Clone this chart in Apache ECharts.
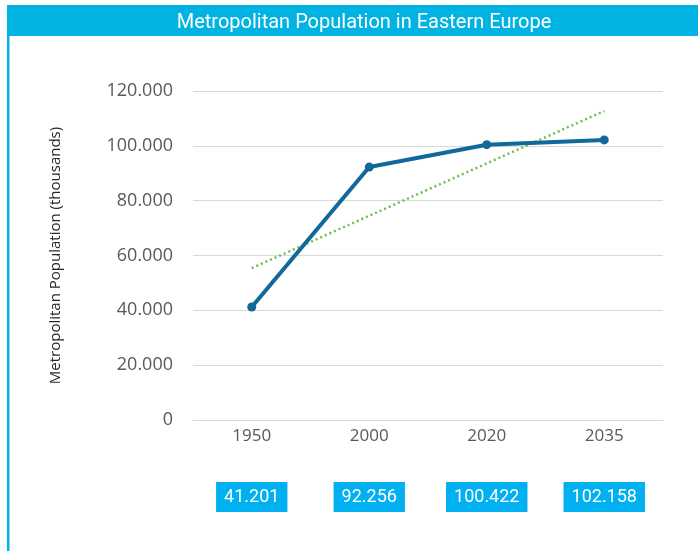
<!DOCTYPE html>
<html>
<head>
<meta charset="utf-8">
<script src="https://cdn.jsdelivr.net/npm/echarts@6/dist/echarts.min.js"></script>
<style>
  html, body { margin: 0; padding: 0; background: #fff; }
  #chart { width: 698px; height: 551px; }
</style>
</head>
<body>
<div id="chart"></div>
<script>
var years = ['1950', '2000', '2020', '2035']
var population = [41.201, 92.256, 100.422, 102.158]
// linear trendline
var trend = [55.4, 74.5, 93.6, 112.7]
var boxLabels = ['41.201', '92.256', '100.422', '102.158']
var yTicks = { min: 0, max: 120, interval: 20 }

var myChart = echarts.init(document.getElementById('chart'))
var option = {
  backgroundColor: '#fff',
  animation: false,
  title: {
    text: 'Metropolitan Population in Eastern Europe',
    left: 359,
    top: 8,
    textAlign: 'center',
    textStyle: {
      color: '#fff',
      fontFamily: 'Roboto',
      fontWeight: 'normal',
      fontSize: 20
    }
  },
  graphic: [
    {
      type: 'rect',
      z: -1,
      shape: { x: 7, y: 5, width: 691, height: 31 },
      style: { fill: '#00b3e3' }
    },
    {
      type: 'rect',
      z: -1,
      shape: { x: 7, y: 36, width: 2.5, height: 515 },
      style: { fill: '#00b3e3' }
    }
  ],
  grid: {
    left: 193,
    right: 35,
    top: 91,
    bottom: 131
  },
  xAxis: [
    {
      type: 'category',
      data: years,
      axisLine: { lineStyle: { color: '#d9d9d9', width: 1 } },
      axisTick: { show: false },
      axisLabel: {
        color: '#595959',
        fontFamily: 'Open Sans',
        fontSize: 17,
        margin: 8
      }
    },
    {
      type: 'category',
      position: 'bottom',
      offset: 54,
      data: boxLabels,
      axisLine: { show: false },
      axisTick: { show: false },
      splitLine: { show: false },
      axisLabel: {
        color: '#fff',
        fontFamily: 'Roboto',
        fontSize: 18,
        lineHeight: 20,
        margin: 8,
        backgroundColor: '#00b0f0',
        padding: [5, 8]
      }
    }
  ],
  yAxis: {
    type: 'value',
    min: yTicks.min,
    max: yTicks.max,
    interval: yTicks.interval,
    name: 'Metropolitan Population (thousands)',
    nameLocation: 'middle',
    nameRotate: 90,
    nameGap: 130,
    nameTextStyle: {
      color: '#262626',
      fontFamily: 'Open Sans',
      fontSize: 15
    },
    axisLine: { show: false },
    axisTick: { show: false },
    splitLine: { lineStyle: { color: '#d9d9d9', width: 1 } },
    axisLabel: {
      color: '#595959',
      fontFamily: 'Open Sans',
      fontSize: 18,
      margin: 20,
      formatter: function(v) {
        return v === 0 ? '0' : v + '.000'
      }
    }
  },
  series: [
    {
      name: 'Trend',
      type: 'line',
      data: trend,
      symbol: 'none',
      lineStyle: { color: '#6abf4b', width: 2.5, type: [2, 3] },
      z: 2
    },
    {
      name: 'Population',
      type: 'line',
      data: population,
      symbol: 'circle',
      symbolSize: 9,
      itemStyle: { color: '#11689a' },
      lineStyle: { color: '#11689a', width: 4 },
      z: 3
    }
  ]
}
myChart.setOption(option)
</script>
</body>
</html>
